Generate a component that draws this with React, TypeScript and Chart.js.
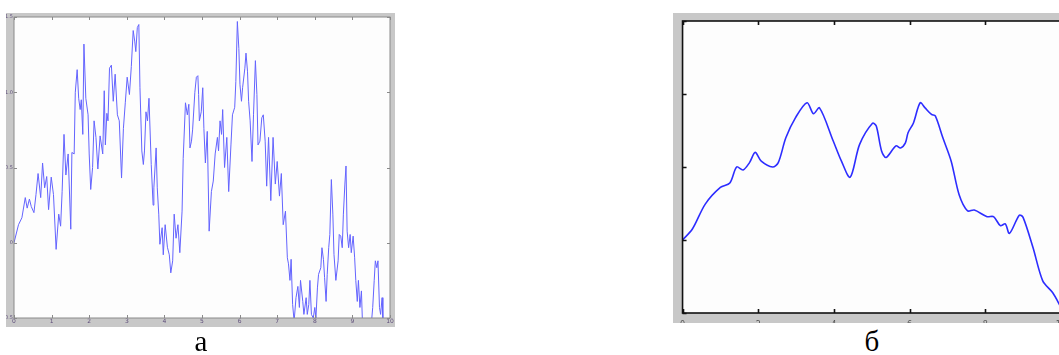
import React, { useEffect, useRef } from "react";
import { Chart, registerables } from "chart.js";
Chart.register(...registerables);

// ---- Chart "а": noisy signal ----
const leftX = [0, 0.12, 0.21, 0.3, 0.35, 0.41, 0.46, 0.53, 0.585, 0.64, 0.71, 0.76, 0.815, 0.87, 0.92, 0.99, 1.05, 1.12, 1.19, 1.24, 1.28, 1.33, 1.38, 1.44, 1.51, 1.54, 1.6, 1.63, 1.68, 1.72, 1.76, 1.79, 1.83, 1.86, 1.91, 1.97, 2.0, 2.04, 2.09, 2.13, 2.18, 2.23, 2.29, 2.36, 2.4, 2.43, 2.47, 2.5, 2.54, 2.59, 2.64, 2.69, 2.75, 2.8, 2.86, 2.91, 2.96, 3.01, 3.07, 3.12, 3.17, 3.21, 3.24, 3.28, 3.32, 3.35, 3.4, 3.44, 3.47, 3.51, 3.55, 3.59, 3.65, 3.7, 3.72, 3.78, 3.81, 3.85, 3.88, 3.94, 3.97, 4.02, 4.08, 4.13, 4.17, 4.22, 4.26, 4.31, 4.36, 4.41, 4.47, 4.5, 4.56, 4.61, 4.65, 4.68, 4.72, 4.75, 4.81, 4.85, 4.89, 4.91, 4.93, 4.98, 5.02, 5.05, 5.09, 5.14, 5.19, 5.25, 5.3, 5.35, 5.41, 5.44, 5.48, 5.52, 5.55, 5.6, 5.66, 5.71, 5.77, 5.81, 5.87, 5.9, 5.94, 5.98, 6.01, 6.05, 6.08, 6.14, 6.17, 6.21, 6.24, 6.28, 6.33, 6.37, 6.42, 6.46, 6.49, 6.54, 6.59, 6.63, 6.68, 6.72, 6.77, 6.83, 6.89, 6.95, 7.0, 7.06, 7.11, 7.16, 7.22, 7.27, 7.3, 7.34, 7.37, 7.41, 7.45, 7.5, 7.55, 7.59, 7.62, 7.68, 7.71, 7.77, 7.8, 7.84, 7.87, 7.91, 7.96, 8.0, 8.03, 8.07, 8.1, 8.16, 8.19, 8.23, 8.26, 8.3, 8.33, 8.37, 8.4, 8.44, 8.48, 8.51, 8.56, 8.62, 8.65, 8.69, 8.73, 8.76, 8.8, 8.83, 8.86, 8.9, 8.94, 8.97, 9.02, 9.06, 9.09, 9.13, 9.16, 9.2, 9.24, 9.27, 9.33, 9.4, 9.45, 9.5, 9.54, 9.58, 9.61, 9.65, 9.68, 9.72, 9.75, 9.79, 9.81, 9.82];
const leftY = [0, 0.12, 0.166, 0.3, 0.23, 0.29, 0.24, 0.2, 0.32, 0.46, 0.3, 0.53, 0.365, 0.44, 0.22, 0.436, 0.32, -0.044, 0.19, 0.11, 0.34, 0.72, 0.45, 0.59, 0.09, 0.6, 0.59, 1.0, 1.15, 0.96, 0.885, 0.95, 0.72, 1.32, 0.96, 0.85, 0.59, 0.354, 0.5, 0.81, 0.7, 0.49, 0.71, 0.59, 1.01, 0.65, 0.86, 0.81, 1.16, 1.18, 0.94, 1.12, 0.85, 0.81, 0.43, 0.76, 0.93, 1.1, 0.985, 1.17, 1.41, 1.34, 1.27, 1.43, 1.45, 1.03, 0.61, 0.52, 0.61, 0.87, 0.81, 0.96, 0.52, 0.25, 0.365, 0.63, 0.365, 0.19, -0.01, 0.1, -0.08, 0.12, -0.03, -0.08, -0.2, -0.12, 0.19, 0.03, 0.12, -0.066, 0.21, 0.56, 0.93, 0.85, 0.92, 0.63, 0.675, 0.75, 1.0, 1.1, 1.11, 0.985, 0.81, 0.87, 1.03, 0.76, 0.53, 0.74, 0.077, 0.34, 0.41, 0.59, 0.7, 0.61, 0.81, 0.72, 0.885, 0.5, 0.7, 0.34, 0.65, 0.85, 0.9, 1.07, 1.47, 1.29, 1.05, 0.94, 1.03, 1.16, 1.26, 1.14, 0.94, 0.81, 0.54, 0.85, 1.21, 0.985, 0.65, 0.675, 0.83, 0.85, 0.675, 0.376, 0.7, 0.28, 0.7, 0.39, 0.54, 0.31, 0.46, 0.12, 0.21, -0.1, -0.14, -0.25, -0.11, -0.41, -0.52, -0.365, -0.29, -0.43, -0.25, -0.39, -0.476, -0.365, -0.476, -0.41, -0.25, -0.476, -0.5, -0.43, -0.5, -0.3, -0.21, -0.166, -0.033, -0.11, -0.23, -0.39, -0.21, -0.033, 0.055, 0.42, 0.19, -0.077, -0.25, -0.12, 0.055, 0.044, -0.033, 0.19, 0.39, 0.51, 0.077, -0.033, 0.055, -0.066, 0.044, -0.1, -0.25, -0.39, -0.25, -0.43, -0.32, -0.55, -0.6, -0.52, -0.58, -0.55, -0.43, -0.25, -0.12, -0.166, -0.12, -0.43, -0.476, -0.365, -0.51, -0.55];
const leftXTicks = [0, 1, 2, 3, 4, 5, 6, 7, 8, 9, 10];
const leftYTicks = [-0.5, 0, 0.5, 1, 1.5];

// ---- Chart "б": smoothed signal ----
const rightX = [0, 0.26, 0.6, 1.0, 1.25, 1.43, 1.6, 1.77, 1.92, 2.08, 2.38, 2.53, 2.73, 2.99, 3.29, 3.46, 3.62, 3.98, 4.2, 4.43, 4.68, 5.02, 5.12, 5.26, 5.38, 5.64, 5.76, 5.89, 5.96, 6.1, 6.28, 6.41, 6.58, 6.68, 6.88, 7.1, 7.31, 7.53, 7.71, 8.05, 8.22, 8.4, 8.53, 8.64, 8.9, 9.0, 9.26, 9.52, 9.78, 10];
const rightY = [0, 0.075, 0.246, 0.36, 0.39, 0.5, 0.48, 0.53, 0.6, 0.54, 0.5, 0.53, 0.7, 0.84, 0.94, 0.865, 0.905, 0.68, 0.54, 0.43, 0.655, 0.8, 0.78, 0.61, 0.565, 0.645, 0.63, 0.665, 0.735, 0.8, 0.94, 0.905, 0.86, 0.85, 0.7, 0.54, 0.31, 0.2, 0.205, 0.16, 0.16, 0.098, 0.11, 0.045, 0.17, 0.155, -0.05, -0.28, -0.36, -0.46];
const rightXTicks = [0, 2, 4, 6, 8, 10];
const rightYTicks = [-0.5, 0, 0.5, 1, 1.5];

const boxPlugin = (cfg: { bg: string; color: string; width: number; len: number; sides: string[] }) => ({
  id: "matlabBox",
  beforeDraw(chart: any) {
    const { ctx, chartArea: a } = chart;
    ctx.save();
    ctx.fillStyle = cfg.bg;
    ctx.fillRect(a.left, a.top, a.right - a.left, a.bottom - a.top);
    ctx.restore();
  },
  afterDraw(chart: any) {
    const { ctx, chartArea: a } = chart;
    const xs = chart.scales.x;
    const ys = chart.scales.y;
    ctx.save();
    ctx.strokeStyle = cfg.color;
    ctx.lineWidth = cfg.width;
    ctx.strokeRect(a.left, a.top, a.right - a.left, a.bottom - a.top);
    ctx.beginPath();
    for (const t of xs.ticks) {
      const px = Math.round(xs.getPixelForValue(t.value)) + 0.5;
      if (cfg.sides.includes("bottom")) { ctx.moveTo(px, a.bottom); ctx.lineTo(px, a.bottom - cfg.len); }
      if (cfg.sides.includes("top")) { ctx.moveTo(px, a.top); ctx.lineTo(px, a.top + cfg.len); }
    }
    for (const t of ys.ticks) {
      const py = Math.round(ys.getPixelForValue(t.value)) + 0.5;
      if (cfg.sides.includes("left")) { ctx.moveTo(a.left, py); ctx.lineTo(a.left + cfg.len, py); }
      if (cfg.sides.includes("right")) { ctx.moveTo(a.right, py); ctx.lineTo(a.right - cfg.len, py); }
    }
    ctx.stroke();
    ctx.restore();
  },
});

function LeftChart() {
  const ref = useRef<HTMLCanvasElement>(null);
  useEffect(() => {
    const pts = leftX.map((x, i) => ({ x, y: leftY[i] }));
    const chart = new Chart(ref.current!, {
      type: "line",
      data: { datasets: [{ data: pts, borderColor: "rgb(100,100,255)", borderWidth: 1, pointRadius: 0, tension: 0 }] },
      options: {
        animation: false,
        responsive: false,
        events: [],
        layout: { padding: { left: 0, right: 5, top: 3, bottom: 0 } },
        plugins: { legend: { display: false }, tooltip: { enabled: false } },
        scales: {
          x: {
            type: "linear", min: 0, max: 10,
            afterBuildTicks: (s: any) => { s.ticks = leftXTicks.map((v) => ({ value: v })); },
            ticks: { font: { size: 6, family: "DejaVu Sans" }, color: "#5e4e7a", padding: 0, maxRotation: 0, autoSkip: false },
            grid: { display: false, drawTicks: false }, border: { display: false },
            afterFit: (s: any) => { s.height = 9; },
          },
          y: {
            type: "linear", min: -0.5, max: 1.5,
            afterBuildTicks: (s: any) => { s.ticks = leftYTicks.map((v) => ({ value: v })); },
            ticks: { font: { size: 5, family: "DejaVu Sans" }, color: "#5e4e7a", padding: 1, autoSkip: false },
            grid: { display: false, drawTicks: false }, border: { display: false },
            afterFit: (s: any) => { s.width = 8; },
          },
        },
      },
      plugins: [boxPlugin({ bg: "#fdfdfd", color: "#8a8a8a", width: 1, len: 3, sides: ["bottom", "top", "left", "right"] })],
    });
    return () => chart.destroy();
  }, []);
  return <canvas ref={ref} width={389} height={314} style={{ position: "absolute", left: 6, top: 13, width: 389, height: 314, background: "#c8c8c8" }} />;
}

function RightChart() {
  const ref = useRef<HTMLCanvasElement>(null);
  useEffect(() => {
    const pts = rightX.map((x, i) => ({ x, y: rightY[i] }));
    const chart = new Chart(ref.current!, {
      type: "line",
      data: { datasets: [{ data: pts, borderColor: "rgb(45,45,255)", borderWidth: 1.6, pointRadius: 0, tension: 0.3 }] },
      options: {
        animation: false,
        responsive: false,
        events: [],
        layout: { padding: { left: 7, right: 8, top: 8, bottom: 0 } },
        plugins: { legend: { display: false }, tooltip: { enabled: false } },
        scales: {
          x: {
            type: "linear", min: 0, max: 10,
            afterBuildTicks: (s: any) => { s.ticks = rightXTicks.map((v) => ({ value: v })); },
            ticks: { font: { size: 8, family: "DejaVu Sans" }, color: "#555", padding: 7, maxRotation: 0, autoSkip: false },
            grid: { display: false, drawTicks: false }, border: { display: false },
            afterFit: (s: any) => { s.height = 10; },
          },
          y: {
            type: "linear", min: -0.5, max: 1.5, display: false,
            afterBuildTicks: (s: any) => { s.ticks = rightYTicks.map((v) => ({ value: v })); },
          },
        },
      },
      plugins: [boxPlugin({ bg: "#fdfdfd", color: "#111", width: 1.6, len: 4, sides: ["bottom", "top", "left"] })],
    });
    return () => chart.destroy();
  }, []);
  return <canvas ref={ref} width={400} height={310} style={{ position: "absolute", left: 673, top: 13, width: 400, height: 310, background: "#c8c8c8" }} />;
}

const captionStyle: React.CSSProperties = {
  position: "absolute", top: 327, fontFamily: "'Liberation Serif', 'Times New Roman', serif", fontSize: 29, lineHeight: "29px", color: "#000", transform: "translateX(-50%)",
};

export default function App() {
  return (
    <div style={{ position: "fixed", left: 0, top: 0, width: 1059, height: 355, overflow: "hidden", background: "#fff" }}>
      <LeftChart />
      <RightChart />
      <div style={{ ...captionStyle, left: 201 }}>а</div>
      <div style={{ ...captionStyle, left: 872 }}>б</div>
    </div>
  );
}
